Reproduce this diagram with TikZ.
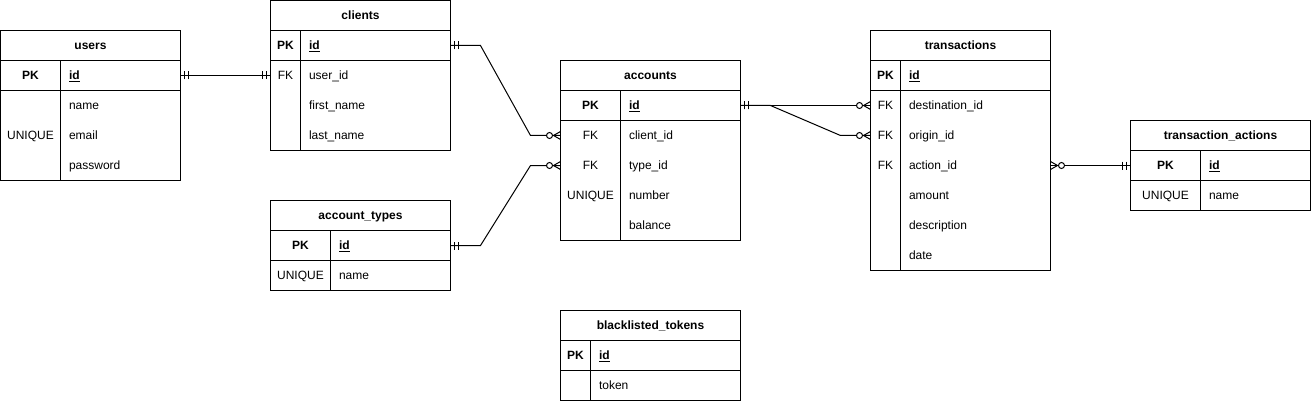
\documentclass[tikz,border=0pt]{standalone}
\usepackage{fontspec}
\setmainfont{Liberation Sans}
\usepackage{tikz}
\usetikzlibrary{
  calc,                  % Coordinate math for the bent relations
  arrows.meta
}

% ER tips: mandatory one (two bars) and zero-or-many (circle + crow's foot)
\pgfdeclarearrow{
  name = ER one,
  setup code = {
    \pgfarrowssettipend{0pt}
    \pgfarrowssetlineend{0pt}
    \pgfarrowssetbackend{-9pt}
    \pgfarrowssetvisualbackend{-9pt}
    \pgfarrowshullpoint{0pt}{4pt}
    \pgfarrowshullpoint{0pt}{-4pt}
    \pgfarrowshullpoint{-9pt}{4pt}
    \pgfarrowshullpoint{-9pt}{-4pt}
  },
  drawing code = {
    \pgfsetdash{}{0pt}
    \pgfpathmoveto{\pgfqpoint{-4pt}{4pt}}
    \pgfpathlineto{\pgfqpoint{-4pt}{-4pt}}
    \pgfpathmoveto{\pgfqpoint{-8pt}{4pt}}
    \pgfpathlineto{\pgfqpoint{-8pt}{-4pt}}
    \pgfusepathqstroke
  }
}
\pgfdeclarearrow{
  name = ER many,
  setup code = {
    \pgfarrowssettipend{0pt}
    \pgfarrowssetlineend{0pt}
    \pgfarrowssetbackend{-15pt}
    \pgfarrowssetvisualbackend{-15pt}
    \pgfarrowshullpoint{0pt}{4pt}
    \pgfarrowshullpoint{0pt}{-4pt}
    \pgfarrowshullpoint{-15pt}{4pt}
    \pgfarrowshullpoint{-15pt}{-4pt}
  },
  drawing code = {
    \pgfsetdash{}{0pt}
    \pgfpathmoveto{\pgfqpoint{0pt}{4pt}}
    \pgfpathlineto{\pgfqpoint{-7pt}{0pt}}
    \pgfpathmoveto{\pgfqpoint{0pt}{-4pt}}
    \pgfpathlineto{\pgfqpoint{-7pt}{0pt}}
    \pgfusepathqstroke
    \pgfpathcircle{\pgfqpoint{-11pt}{0pt}}{3pt}
    \pgfsetfillcolor{white}
    \pgfusepathqfillstroke
  }
}

\tikzset{
  txt/.style={inner sep=0pt, text height=8.6pt, text depth=0pt,
    font=\fontsize{12}{14}\selectfont},
  title/.style={txt, font=\fontsize{12}{14}\selectfont\bfseries},
  keycol/.style={txt},
  pkcol/.style={txt, font=\fontsize{12}{14}\selectfont\bfseries},
  field/.style={txt, anchor=west},
  entity/.style={draw, line width=1pt, inner sep=0pt, outer sep=0pt,
    minimum width=180pt},
  rel/.style={line width=1pt}
}

\begin{document}
\begin{tikzpicture}[x=1pt, y=-1pt, line width=1pt]
  \useasboundingbox (-0.5,-0.5) rectangle (1310.5,400.5);

  % Table frames
  \node[entity, minimum height=150pt] (users) at (90,105) {};
  \node[entity, minimum height=150pt] (clients) at (360,75) {};
  \node[entity, minimum height=90pt] (acctypes) at (360,245) {};
  \node[entity, minimum height=180pt] (accounts) at (650,150) {};
  \node[entity, minimum height=90pt] (tokens) at (650,355) {};
  \node[entity, minimum height=240pt] (transactions) at (960,150) {};
  \node[entity, minimum height=90pt] (actions) at (1220,165) {};

  % Row lines and key column: left/top/bottom/divider
  \foreach \l/\t/\b/\d in {0/30/180/60, 270/0/150/300, 270/200/290/330,
      560/60/240/620, 560/310/400/590, 870/30/270/900, 1130/120/210/1200} {
    \draw (\l,\t+30) -- (\l+180,\t+30);
    \draw (\l,\t+60) -- (\l+180,\t+60);
    \draw (\d,\t+30) -- (\d,\b);
  }

  % users
  \node[title] (users-t) at (90,45) {users};
  \node[pkcol] (users-pk) at (30,75) {PK};
  \node[field, font=\fontsize{12}{14}\selectfont\bfseries] (users-id) at (68,75) {\underline{id}};
  \node[keycol] (users-uq) at (30,135) {UNIQUE};
  \foreach \f/\y [count=\i] in {name/105, email/135, password/165}
    \node[field] (users-f\i) at (68,\y) {\f};

  % clients
  \node[title] (clients-t) at (360,15) {clients};
  \node[pkcol] (clients-pk) at (285,45) {PK};
  \node[field, font=\fontsize{12}{14}\selectfont\bfseries] (clients-id) at (308,45) {\underline{id}};
  \node[keycol] (clients-fk) at (285,75) {FK};
  \node[field] (clients-userid) at (308,75) {user\_id};
  \foreach \f/\y [count=\i] in {first\_name/105, last\_name/135}
    \node[field] (clients-f\i) at (308,\y) {\f};

  % account_types
  \node[title] (acctypes-t) at (360,215) {account\_types};
  \node[pkcol] (acctypes-pk) at (300,245) {PK};
  \node[field, font=\fontsize{12}{14}\selectfont\bfseries] (acctypes-id) at (338,245) {\underline{id}};
  \node[keycol] (acctypes-uq) at (300,275) {UNIQUE};
  \node[field] (acctypes-name) at (338,275) {name};

  % accounts
  \node[title] (accounts-t) at (650,75) {accounts};
  \node[pkcol] (accounts-pk) at (590,105) {PK};
  \node[field, font=\fontsize{12}{14}\selectfont\bfseries] (accounts-id) at (628,105) {\underline{id}};
  \node[keycol] (accounts-fk1) at (590,135) {FK};
  \node[keycol] (accounts-fk2) at (590,165) {FK};
  \node[keycol] (accounts-uq) at (590,195) {UNIQUE};
  \node[field] (accounts-clientid) at (628,135) {client\_id};
  \node[field] (accounts-typeid) at (628,165) {type\_id};
  \node[field] (accounts-number) at (628,195) {number};
  \node[field] (accounts-balance) at (628,225) {balance};

  % blacklisted_tokens
  \node[title] (tokens-t) at (650,325) {blacklisted\_tokens};
  \node[pkcol] (tokens-pk) at (575,355) {PK};
  \node[field, font=\fontsize{12}{14}\selectfont\bfseries] (tokens-id) at (598,355) {\underline{id}};
  \node[field] (tokens-token) at (598,385) {token};

  % transactions
  \node[title] (transactions-t) at (960,45) {transactions};
  \node[pkcol] (transactions-pk) at (885,75) {PK};
  \node[field, font=\fontsize{12}{14}\selectfont\bfseries] (transactions-id) at (908,75) {\underline{id}};
  \foreach \y [count=\i] in {105, 135, 165}
    \node[keycol] (transactions-fk\i) at (885,\y) {FK};
  \node[field] (transactions-destid) at (908,105) {destination\_id};
  \node[field] (transactions-originid) at (908,135) {origin\_id};
  \node[field] (transactions-actionid) at (908,165) {action\_id};
  \foreach \f/\y [count=\i] in {amount/195, description/225, date/255}
    \node[field] (transactions-f\i) at (908,\y) {\f};

  % transaction_actions
  \node[title] (actions-t) at (1220,135) {transaction\_actions};
  \node[pkcol] (actions-pk) at (1165,165) {PK};
  \node[field, font=\fontsize{12}{14}\selectfont\bfseries] (actions-id) at (1208,165) {\underline{id}};
  \node[keycol] (actions-uq) at (1165,195) {UNIQUE};
  \node[field] (actions-name) at (1208,195) {name};

  % Relations
  \draw[rel, ER one-ER one] (users.east |- users-id) -- (clients.west |- clients-userid);
  \draw[rel, ER one-ER many] (clients.east |- clients-id) -- ++(30,0)
    -- ($(accounts.west |- accounts-clientid)+(-30,0)$) -- (accounts.west |- accounts-clientid);
  \draw[rel, ER one-ER many] (acctypes.east |- acctypes-id) -- ++(30,0)
    -- ($(accounts.west |- accounts-typeid)+(-30,0)$) -- (accounts.west |- accounts-typeid);
  \draw[rel, ER one-ER many] (accounts.east |- accounts-id) -- (transactions.west |- transactions-destid);
  \draw[rel, ER one-ER many] (accounts.east |- accounts-id) -- ++(30,0)
    -- ($(transactions.west |- transactions-originid)+(-30,0)$) -- (transactions.west |- transactions-originid);
  \draw[rel, ER many-ER one] (transactions.east |- transactions-actionid) -- (actions.west |- actions-id);
\end{tikzpicture}
\end{document}
